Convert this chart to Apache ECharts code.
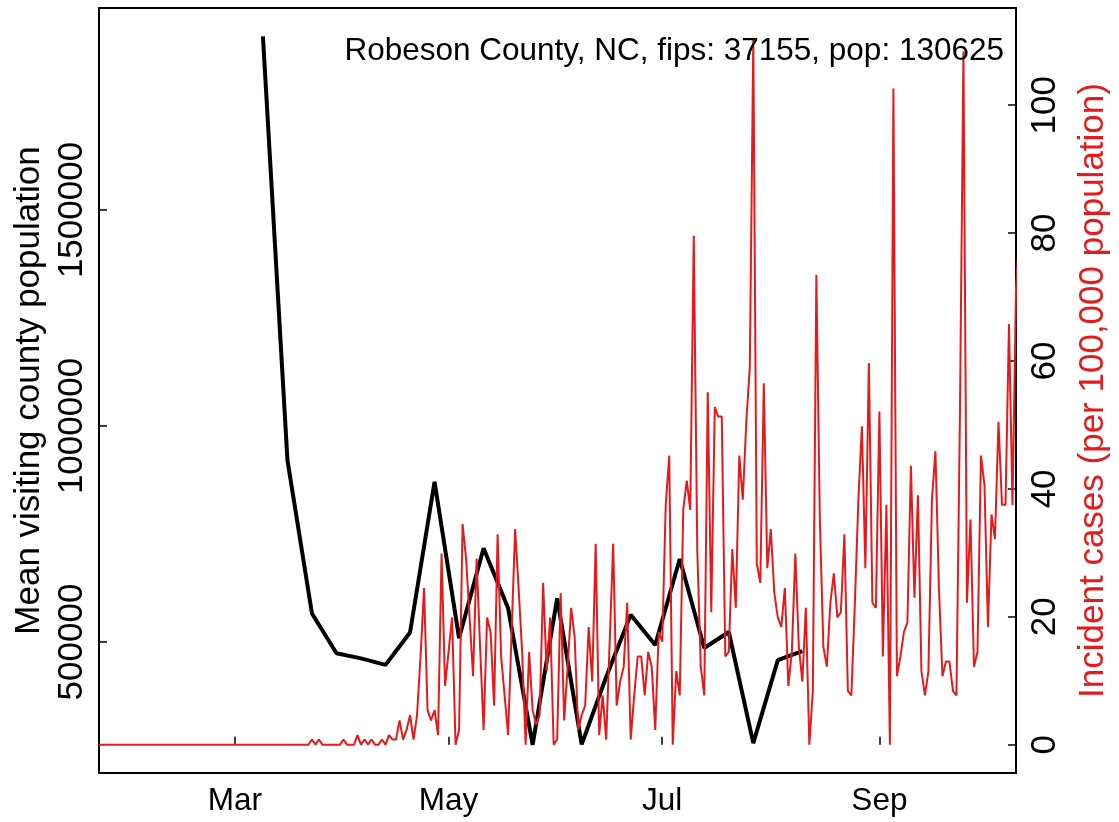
<!DOCTYPE html>
<html>
<head>
<meta charset="utf-8">
<script src="https://cdn.jsdelivr.net/npm/echarts@6/dist/echarts.min.js"></script>
<style>
  html, body { margin: 0; padding: 0; background: #fff; }
  #chart { width: 1119px; height: 822px; }
</style>
</head>
<body>
<div id="chart"></div>
<script>
// Robeson County, NC - weekly mobility vs daily incident cases

const titleText = 'Robeson County, NC, fips: 37155, pop: 130625';

// weekly mean visiting county population, starting Mon 2020-03-09
const visitStart = '2020-03-09';
const visitValues = [
  1902000, 921000, 566000, 474000, 462000, 447000, 522000, 871000,
  509000, 717000, 578000, 262000, 601000, 263000, 419000, 563000,
  493000, 692000, 486000, 523000, 266000, 458000, 479000
];

// daily incident cases per 100,000, starting 2020-01-22
const caseStart = '2020-01-22';
const caseValues = [
  0, 0, 0, 0, 0, 0, 0, 0, 0, 0,
  0, 0, 0, 0, 0, 0, 0, 0, 0, 0,
  0, 0, 0, 0, 0, 0, 0, 0, 0, 0,
  0, 0, 0, 0, 0, 0, 0, 0, 0, 0,
  0, 0, 0, 0, 0, 0, 0, 0, 0, 0,
  0, 0, 0, 0, 0, 0, 0, 0, 0, 0,
  0, 0.8, 0, 0.8, 0, 0, 0, 0, 0, 0,
  0.8, 0, 0, 0, 1.5, 0, 0.8, 0, 0.8, 0,
  0, 0.8, 0, 1.5, 0.8, 0.8, 3.8, 0.8, 2.3, 4.6,
  0.8, 4.6, 13.8, 24.5, 5.4, 3.8, 5.4, 1.5, 29.9, 9.2,
  14.5, 19.9, 0, 2.3, 34.5, 29.1, 19.9, 10.7, 29.1, 15.3,
  2.3, 19.9, 17.6, 6.1, 32.9, 13.8, 7.7, 1.5, 17.6, 33.7,
  24.5, 14.5, 0, 14.5, 5.4, 3.1, 4.6, 25.3, 11.5, 19.9,
  0, 0.8, 23.7, 3.8, 12.2, 21.4, 16.8, 2.3, 4.6, 6.1,
  18.4, 9.9, 31.4, 1.5, 7.7, 0.8, 16.1, 31.4, 6.1, 9.9,
  12.2, 22.2, 0.8, 7.7, 13.8, 13.8, 7.7, 14.5, 12.2, 2.3,
  17.6, 16.1, 37.5, 45.2, 0, 11.5, 7.7, 36.7, 41.3, 36.7,
  79.6, 30.6, 12.2, 7.7, 55.1, 20.7, 52.8, 51.3, 51.3, 13.8,
  14.5, 30.6, 21.4, 45.2, 38.3, 50.5, 59.0, 110.2, 28.3, 25.3,
  56.5, 27.6, 33.7, 23.7, 19.9, 18.4, 24.5, 9.2, 14.5, 29.9,
  15.3, 9.9, 21.4, 0, 8.4, 73.5, 35.2, 15.3, 12.2, 22.2,
  26.8, 19.9, 20.7, 32.9, 8.4, 7.7, 22.2, 38.3, 49.8, 27.6,
  59.7, 22.2, 21.4, 52.1, 13.8, 37.5, 0, 102.6, 10.7, 13.8,
  17.6, 19.1, 43.6, 23.0, 39.0, 11.5, 7.7, 11.5, 38.3, 45.9,
  24.5, 10.7, 13.0, 13.0, 8.4, 7.7, 52.1, 108.4, 22.2, 35.2,
  12.2, 14.5, 45.2, 40.6, 18.4, 36.0, 32.2, 50.5, 37.5, 37.5,
  65.8, 37.5, 71.2, 80.4
];

// x axis month ticks
const monthTicks = ['2020-03-01', '2020-05-01', '2020-07-01', '2020-09-01'];
const monthLabels = ['Mar', 'May', 'Jul', 'Sep'];

const visitTicks = [500000, 1000000, 1500000];
const caseTicks = [0, 20, 40, 60, 80, 100];

// day of year (Jan 1 = 0)
function dayOf(s) {
  const p = s.split('-').map(Number);
  return (Date.UTC(p[0], p[1] - 1, p[2]) - Date.UTC(2020, 0, 1)) / 86400000;
}

const visitData = visitValues.map((v, i) => [dayOf(visitStart) + i * 7, v]);
const caseData = caseValues.map((v, i) => [dayOf(caseStart) + i, v]);
const tickDays = monthTicks.map(dayOf);

const font = "'Liberation Sans', Arial, sans-serif";
const red = '#E41A1C';

const chart = echarts.init(document.getElementById('chart'));
chart.setOption({
  animation: false,
  backgroundColor: '#fff',
  textStyle: { fontFamily: font },
  title: {
    text: titleText,
    right: 110,
    top: 30,
    textStyle: { fontFamily: font, fontSize: 31.5, fontWeight: 'normal', color: '#000' }
  },
  grid: {
    left: 99, right: 100, top: 8, bottom: 49,
    show: true, borderColor: '#000', borderWidth: 2
  },
  xAxis: {
    type: 'value',
    min: 21.2,
    max: 283,
    axisLine: { show: false },
    splitLine: { show: false },
    axisTick: {
      inside: true, length: 8, customValues: tickDays,
      lineStyle: { color: '#000', width: 1.5 }
    },
    axisLabel: {
      customValues: tickDays,
      formatter: v => monthLabels[tickDays.indexOf(v)],
      fontSize: 31.5, color: '#000', margin: 12, fontFamily: font
    }
  },
  yAxis: [
    {
      type: 'value',
      position: 'left',
      min: 196700,
      max: 1967600,
      name: 'Mean visiting county population',
      nameLocation: 'middle',
      nameRotate: 90,
      nameGap: 46,
      nameTextStyle: { fontSize: 35, color: '#000', fontFamily: font },
      axisLine: { show: false },
      splitLine: { show: false },
      axisTick: {
        inside: true, length: 8, customValues: visitTicks,
        lineStyle: { color: '#000', width: 1.5 }
      },
      axisLabel: {
        customValues: visitTicks,
        formatter: v => String(v),
        rotate: 90,
        fontSize: 35, color: '#000', margin: 9, fontFamily: font
      }
    },
    {
      type: 'value',
      position: 'right',
      min: -4.43,
      max: 115.2,
      name: 'Incident cases (per 100,000 population)',
      nameLocation: 'middle',
      nameRotate: 90,
      nameGap: 60,
      nameTextStyle: { fontSize: 35, color: red, fontFamily: font },
      axisLine: { show: false },
      splitLine: { show: false },
      axisTick: {
        inside: true, length: 8, customValues: caseTicks,
        lineStyle: { color: '#000', width: 1.5 }
      },
      axisLabel: {
        customValues: caseTicks,
        rotate: 90,
        fontSize: 35, color: '#000', margin: 12, fontFamily: font
      }
    }
  ],
  series: [
    {
      name: 'visits',
      type: 'line',
      yAxisIndex: 0,
      data: visitData,
      showSymbol: false,
      lineStyle: { color: '#000', width: 4 },
      itemStyle: { color: '#000' }
    },
    {
      name: 'cases',
      type: 'line',
      yAxisIndex: 1,
      data: caseData,
      showSymbol: false,
      lineStyle: { color: red, width: 2 },
      itemStyle: { color: red }
    }
  ]
});
</script>
</body>
</html>
